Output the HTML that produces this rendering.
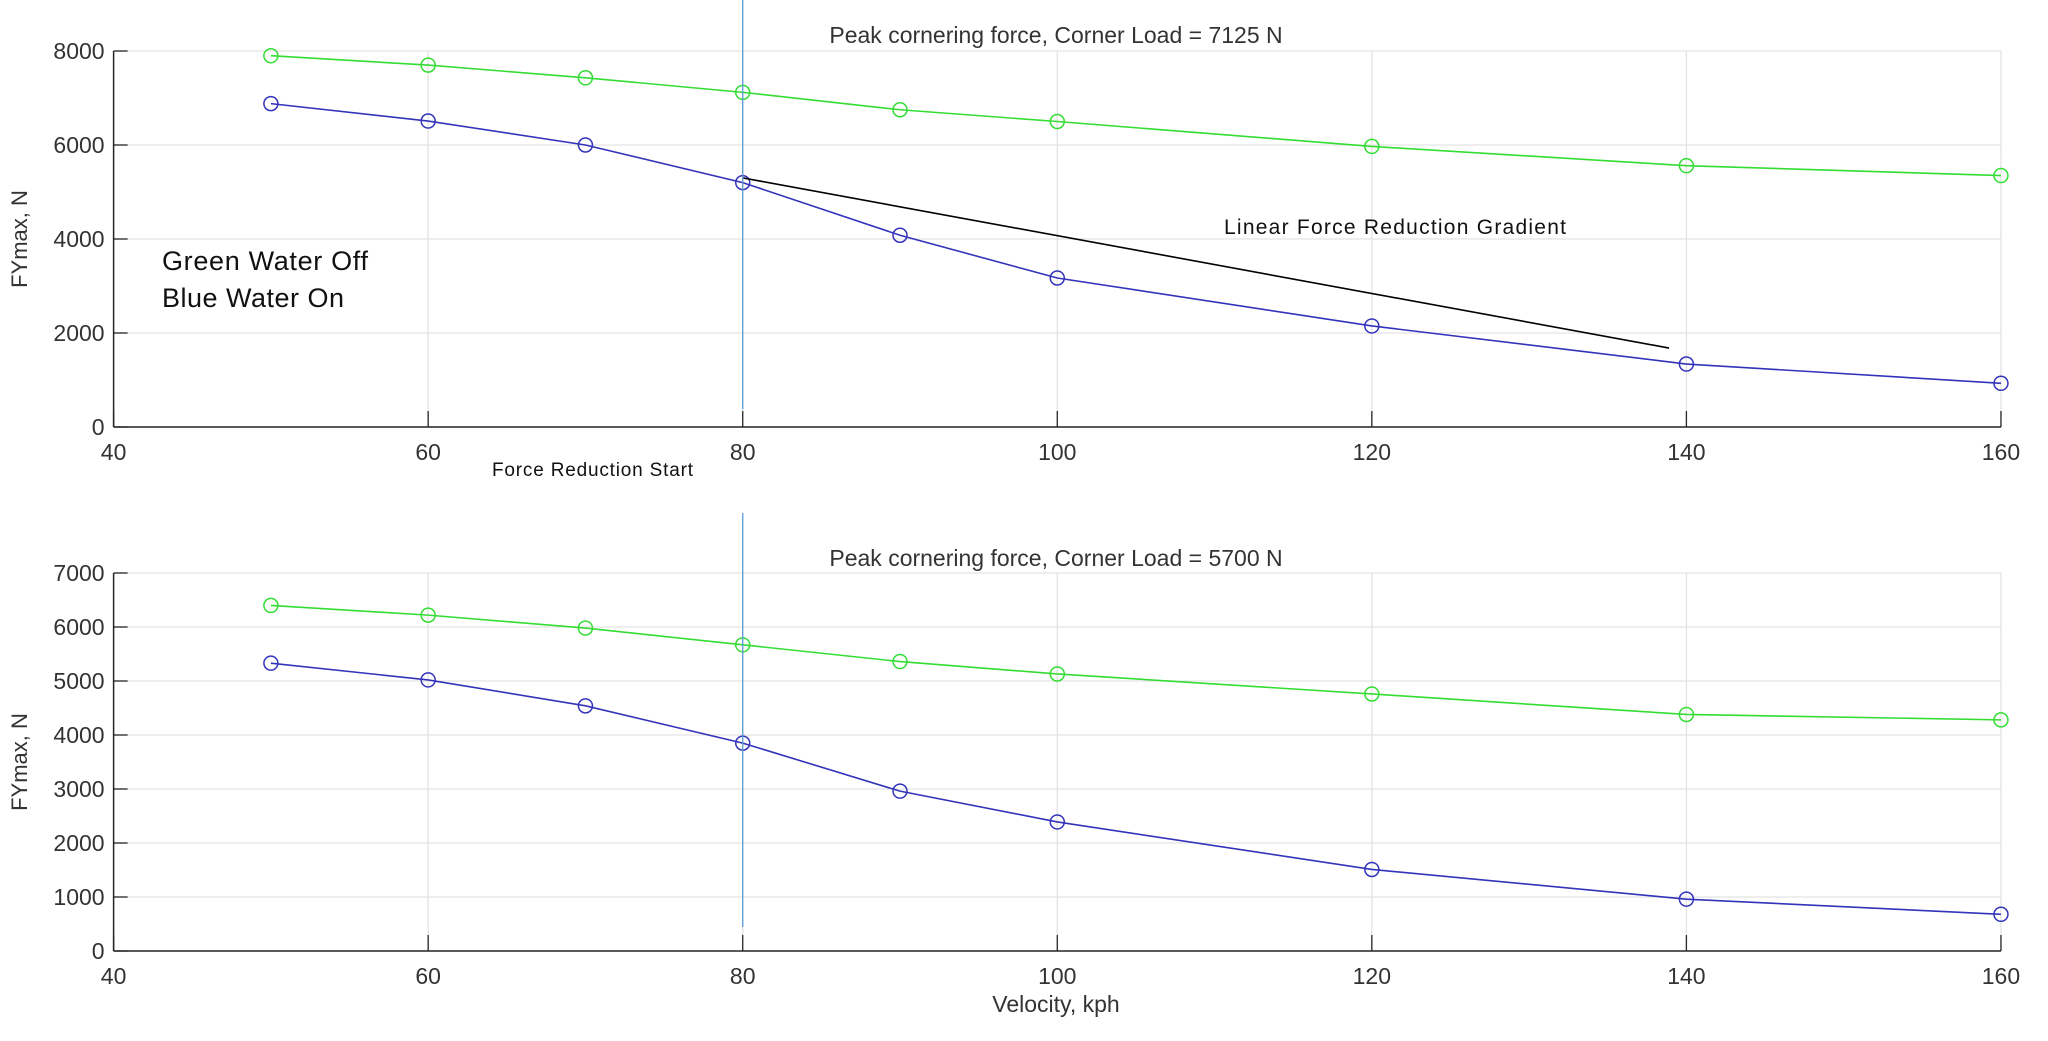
<!DOCTYPE html>
<html><head><meta charset="utf-8"><style>
html,body{margin:0;padding:0;background:#fff;}
svg{display:block;}
text{font-family:"Liberation Sans",sans-serif;fill:#333;}
</style></head><body>
<svg id="s" width="2048" height="1041" xmlns="http://www.w3.org/2000/svg"></svg>
<script>
const s=document.getElementById('s');
let h='';
const X=v=>113.6+(v-40)*15.728;
function plot(y0,ytop,ymax,step,green,blue,title,ty){
  const Y=f=>y0-f*(y0-ytop)/ymax;
  for(let v=40;v<=160;v+=20){h+=`<line x1="${X(v)}" y1="${ytop}" x2="${X(v)}" y2="${y0}" stroke="#e3e3e3" stroke-width="1.3"/>`;}
  for(let f=0;f<=ymax;f+=step){h+=`<line x1="${X(40)}" y1="${Y(f)}" x2="${X(160)}" y2="${Y(f)}" stroke="#e3e3e3" stroke-width="1.3"/>`;
    h+=`<text x="${X(40)-9}" y="${Y(f)+8}" font-size="23" text-anchor="end">${f}</text>`;
    h+=`<line x1="${X(40)}" y1="${Y(f)}" x2="${X(40)+14}" y2="${Y(f)}" stroke="#262626" stroke-width="1.3"/>`;}
  h+=`<line x1="${X(40)}" y1="${y0}" x2="${X(160)}" y2="${y0}" stroke="#262626" stroke-width="1.5"/>`;
  h+=`<line x1="${X(40)}" y1="${y0}" x2="${X(40)}" y2="${ytop}" stroke="#262626" stroke-width="1.5"/>`;
  for(let v=40;v<=160;v+=20){h+=`<line x1="${X(v)}" y1="${y0}" x2="${X(v)}" y2="${y0-16}" stroke="#262626" stroke-width="1.3"/>`;
    h+=`<text x="${X(v)}" y="${y0+33}" font-size="23" text-anchor="middle">${v}</text>`;}
  const xs=[50,60,70,80,90,100,120,140,160];
  [[green,'#33dd33'],[blue,'#3333bb']].forEach(([d,c])=>{
    h+=`<polyline fill="none" stroke="${c}" stroke-width="1.6" points="${xs.map((v,i)=>X(v)+','+Y(d[i])).join(' ')}"/>`;
    xs.forEach((v,i)=>{h+=`<circle cx="${X(v)}" cy="${Y(d[i])}" r="7" fill="none" stroke="${c}" stroke-width="1.5"/>`;});
  });
  h+=`<text x="1056" y="${ty}" font-size="23" text-anchor="middle">${title}</text>`;
  return Y;
}
const Yt=plot(427,51,8000,2000,[7900,7700,7430,7120,6750,6500,5970,5560,5350],[6880,6510,6000,5200,4080,3170,2150,1340,930],'Peak cornering force, Corner Load = 7125 N',43);
plot(951,573,7000,1000,[6400,6220,5980,5670,5360,5130,4760,4380,4280],[5330,5020,4540,3850,2960,2390,1510,960,680],'Peak cornering force, Corner Load = 5700 N',566);
h+=`<line x1="${X(80)}" y1="${Yt(5300)}" x2="1669" y2="${Yt(1680)}" stroke="#000" stroke-width="1.6"/>`;
h+=`<line x1="${X(80)}" y1="0" x2="${X(80)}" y2="409" stroke="#5b9bd5" stroke-width="1.3"/>`;
h+=`<line x1="${X(80)}" y1="513" x2="${X(80)}" y2="927" stroke="#5b9bd5" stroke-width="1.3"/>`;
h+=`<text x="27" y="239" font-size="22" text-anchor="middle" transform="rotate(-90 27 239)">FYmax, N</text>`;
h+=`<text x="27" y="762" font-size="22" text-anchor="middle" transform="rotate(-90 27 762)">FYmax, N</text>`;
h+=`<text x="1056" y="1012" font-size="23" text-anchor="middle">Velocity, kph</text>`;
h+=`<text x="162" y="270" font-size="27" style="fill:#111" textLength="206">Green Water Off</text>`;
h+=`<text x="162" y="307" font-size="27" style="fill:#111" textLength="182">Blue Water On</text>`;
h+=`<text x="1224" y="234" font-size="21" style="fill:#111" textLength="342">Linear Force Reduction Gradient</text>`;
h+=`<text x="492" y="476" font-size="19" style="fill:#111" textLength="201">Force Reduction Start</text>`;
s.innerHTML=h;
</script>
</body></html>
